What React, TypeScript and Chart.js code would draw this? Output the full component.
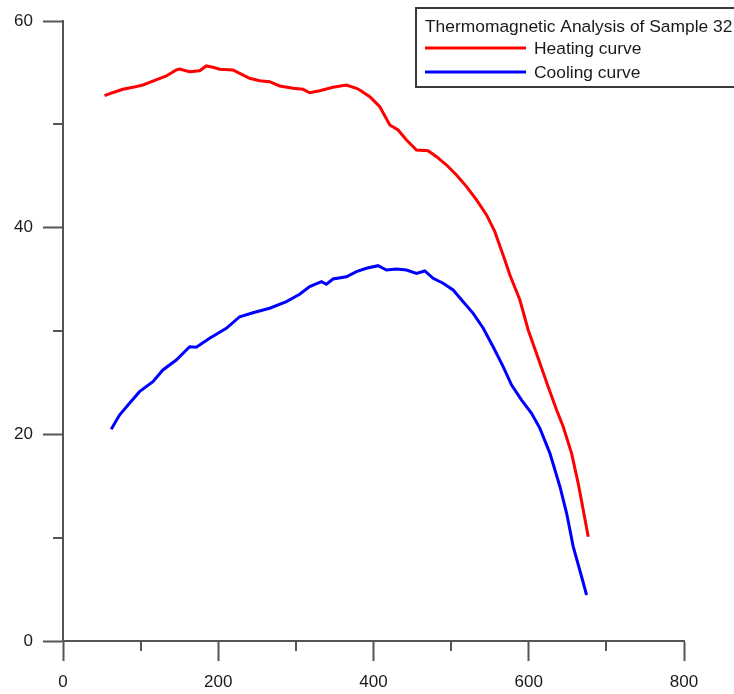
import React, { useEffect, useRef } from "react";
import { Chart, registerables } from "chart.js";

Chart.register(...registerables);

// Heating run: temperature (°C) and magnetic moment
const heatingTemp = [
  53.5, 63.8, 77.1, 90.0, 102.9, 115.8, 133.1, 145.9, 150.2, 163.1, 176.0, 184.6,
  193.1, 201.8, 218.9, 227.6, 240.4, 253.3, 266.2, 279.1, 296.3, 309.2, 317.8,
  330.7, 347.9, 365.1, 378.0, 382.3, 395.2, 408.1, 421.0, 431.7, 442.5, 455.4,
  470.3, 481.2, 494.1, 506.9, 519.8, 532.7, 545.6, 556.3, 569.2, 575.7, 588.6,
  599.3, 614.4, 625.0, 635.9, 644.4, 655.2, 663.7, 670.2, 676.6,
];
const heatingMoment = [
  52.77, 53.06, 53.39, 53.58, 53.81, 54.19, 54.68, 55.26, 55.35, 55.09, 55.19, 55.65,
  55.52, 55.33, 55.26, 54.94, 54.46, 54.22, 54.13, 53.71, 53.49, 53.39, 53.06,
  53.25, 53.58, 53.81, 53.49, 53.32, 52.67, 51.71, 49.94, 49.45, 48.48, 47.52,
  47.45, 46.87, 46.06, 45.1, 43.97, 42.68, 41.23, 39.61, 36.87, 35.42, 33.0,
  30.1, 26.87, 24.61, 22.35, 20.74, 18.16, 15.26, 12.68, 10.09,
];

// Cooling run: temperature (°C) and magnetic moment
const coolingTemp = [
  62.1, 72.8, 85.7, 98.6, 115.8, 128.7, 145.9, 163.1, 171.7, 188.9, 210.4, 227.6,
  244.7, 266.2, 287.8, 304.9, 317.8, 332.9, 339.3, 347.9, 365.1, 378.0, 390.9,
  405.9, 416.7, 429.6, 442.5, 455.4, 466.1, 476.8, 489.7, 502.6, 515.5, 528.4,
  541.2, 554.1, 567.0, 577.9, 590.8, 603.6, 614.4, 627.3, 640.2, 648.8, 657.3,
  668.1, 674.5,
];
const coolingMoment = [
  20.49, 21.87, 23.0, 24.13, 25.09, 26.23, 27.19, 28.48, 28.42, 29.29, 30.26, 31.38,
  31.77, 32.2, 32.84, 33.55, 34.29, 34.77, 34.52, 35.03, 35.25, 35.74, 36.07,
  36.32, 35.9, 36.0, 35.9, 35.58, 35.81, 35.1, 34.62, 33.97, 32.84, 31.71,
  30.29, 28.48, 26.55, 24.77, 23.32, 22.04, 20.58, 18.16, 14.93, 12.36, 9.13,
  6.22, 4.45,
];

const xMin = 0;
const xMax = 800;
const xMajorStep = 200;
const xMinorTicks = [100, 300, 500, 700];
const yMin = 0;
const yMax = 60;
const yMajorStep = 20;
const yMinorTicks = [10, 30, 50];

const legendTitle = "Thermomagnetic Analysis of Sample 32";
const seriesLabels = ["Heating curve", "Cooling curve"];
const seriesColors = ["#ff0000", "#0000ff"];

const FONT = "Liberation Sans, Arial, sans-serif";
const AXIS_COLOR = "#555555";
const TEXT_COLOR = "#1a1a1a";

const toPoints = (xs: number[], ys: number[]) => xs.map((x, i) => ({ x, y: ys[i] }));

// Short unlabeled ticks between the labeled ones
const minorTicksPlugin = {
  id: "minorTicks",
  afterDraw(chart: any) {
    const { ctx, scales } = chart;
    const xs = scales.x;
    const ys = scales.y;
    ctx.save();
    ctx.strokeStyle = AXIS_COLOR;
    ctx.lineWidth = 2;
    ctx.beginPath();
    xMinorTicks.forEach((v) => {
      const px = Math.round(xs.getPixelForValue(v));
      ctx.moveTo(px, ys.bottom);
      ctx.lineTo(px, ys.bottom + 10);
    });
    yMinorTicks.forEach((v) => {
      const py = Math.round(ys.getPixelForValue(v));
      ctx.moveTo(xs.left - 10, py);
      ctx.lineTo(xs.left, py);
    });
    ctx.stroke();
    ctx.restore();
  },
};

// Boxed legend with a title line in the upper right corner
const boxLegendPlugin = {
  id: "boxLegend",
  afterDraw(chart: any) {
    const { ctx } = chart;
    const left = 416;
    const top = 8;
    const right = 745;
    const bottom = 87;
    ctx.save();
    ctx.fillStyle = "#ffffff";
    ctx.fillRect(left, top, right - left, bottom - top);
    ctx.strokeStyle = "#3a3a3a";
    ctx.lineWidth = 2;
    ctx.strokeRect(left, top, right - left, bottom - top);

    ctx.font = `17.4px ${FONT}`;
    ctx.fillStyle = TEXT_COLOR;
    ctx.textAlign = "left";
    ctx.textBaseline = "alphabetic";
    ctx.fillText(legendTitle, 425, 32);

    const rows = [48, 72];
    seriesLabels.forEach((label, i) => {
      const y = rows[i];
      ctx.strokeStyle = seriesColors[i];
      ctx.lineWidth = 3;
      ctx.beginPath();
      ctx.moveTo(425, y);
      ctx.lineTo(526, y);
      ctx.stroke();
      ctx.fillStyle = TEXT_COLOR;
      ctx.fillText(label, 534, y + 6);
    });
    ctx.restore();
  },
};

export default function App() {
  const canvasRef = useRef<HTMLCanvasElement | null>(null);

  useEffect(() => {
    const canvas = canvasRef.current;
    if (!canvas) return;
    const chart = new Chart(canvas, {
      type: "line",
      data: {
        datasets: [
          {
            label: seriesLabels[0],
            data: toPoints(heatingTemp, heatingMoment),
            borderColor: seriesColors[0],
            borderWidth: 3,
            pointRadius: 0,
            tension: 0,
            fill: false,
          },
          {
            label: seriesLabels[1],
            data: toPoints(coolingTemp, coolingMoment),
            borderColor: seriesColors[1],
            borderWidth: 3,
            pointRadius: 0,
            tension: 0,
            fill: false,
          },
        ],
      },
      options: {
        animation: false,
        responsive: false,
        maintainAspectRatio: false,
        events: [],
        layout: { padding: { top: 21, right: 50, left: 0, bottom: 0 } },
        plugins: {
          legend: { display: false },
          tooltip: { enabled: false },
          title: { display: false },
        },
        scales: {
          x: {
            type: "linear",
            min: xMin,
            max: xMax,
            afterFit: (scale: any) => {
              scale.height = 53;
            },
            ticks: {
              stepSize: xMajorStep,
              padding: 11,
              maxRotation: 0,
              color: TEXT_COLOR,
              font: { family: FONT, size: 17 },
            },
            grid: {
              drawOnChartArea: false,
              drawTicks: true,
              tickLength: 20,
              tickColor: AXIS_COLOR,
              tickWidth: 2,
            },
            border: { display: true, color: AXIS_COLOR, width: 2 },
          },
          y: {
            type: "linear",
            min: yMin,
            max: yMax,
            afterFit: (scale: any) => {
              scale.width = 63;
            },
            ticks: {
              stepSize: yMajorStep,
              padding: 10,
              color: TEXT_COLOR,
              font: { family: FONT, size: 17 },
            },
            grid: {
              drawOnChartArea: false,
              drawTicks: true,
              tickLength: 20,
              tickColor: AXIS_COLOR,
              tickWidth: 2,
            },
            border: { display: true, color: AXIS_COLOR, width: 2 },
          },
        },
      },
      plugins: [minorTicksPlugin, boxLegendPlugin],
    } as any);
    return () => chart.destroy();
  }, []);

  return (
    <div
      style={{
        position: "fixed",
        left: 0,
        top: 0,
        width: 734,
        height: 694,
        background: "#ffffff",
      }}
    >
      <canvas ref={canvasRef} width={734} height={694} style={{ width: 734, height: 694, display: "block" }} />
    </div>
  );
}
